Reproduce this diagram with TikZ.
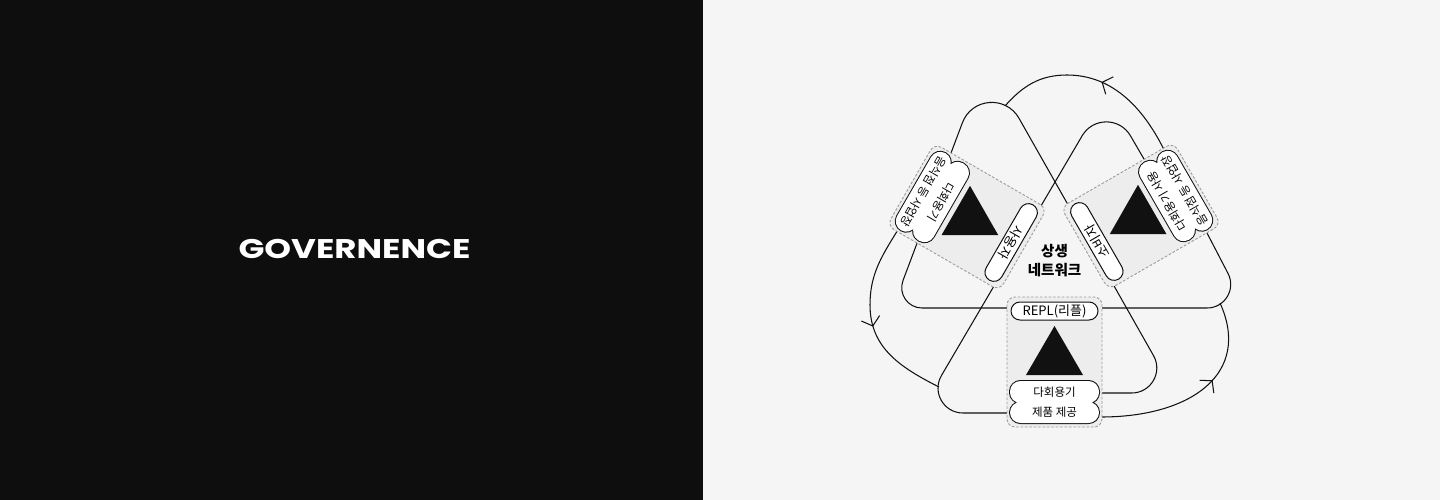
\documentclass[tikz,border=0pt]{standalone}
\usepackage{fontspec}
\setmainfont{Noto Sans CJK KR}
\newfontfamily\titlefont[FakeStretch=1.26]{Poppins}
\usetikzlibrary{arrows.meta,decorations.markings}
\definecolor{panel}{HTML}{0E0E0E}
\definecolor{paper}{HTML}{F5F5F5}
\definecolor{boxfill}{HTML}{EDEDED}
\definecolor{dashgray}{HTML}{9C9C9C}
\definecolor{ink}{HTML}{111111}
\tikzset{
  strand/.style={draw=ink, line width=1.05pt},
  flowmark/.style={postaction={decorate, decoration={markings,
    mark=at position #1 with {\arrow{Straight Barb[length=8pt,width=19pt]}}}}},
  unit/.style={draw=dashgray, dash pattern=on 2.6pt off 1.8pt, line width=0.9pt,
    fill=boxfill, rounded corners=8pt},
  role/.style={draw=ink, line width=1pt, fill=white, rounded corners=9pt,
    minimum width=87pt, minimum height=18pt, inner sep=0pt,
    font=\fontsize{13}{13}\selectfont, transform shape},
  need/.style={inner sep=0pt, font=\fontsize{11.5}{11.5}\selectfont, transform shape}
}

\begin{document}
\begin{tikzpicture}[x=1pt, y=-1pt]
  \useasboundingbox (0,0) rectangle (1440,500);
  \fill[panel] (0,0) rectangle (703,500);
  \fill[paper] (703,0) rectangle (1440,500);
  \node[text=white, font=\titlefont\bfseries\fontsize{27}{27}\selectfont] (title) at (354.5,248.5) {GOVERNENCE};

  % loop with the left apex
  \draw[strand] (1054,308) -- (922,308)
    .. controls (907.8,308) and (898,293.8) .. (903,280.5) -- (962.4,122.7)
    .. controls (971.8,97.8) and (1005.9,95.2) .. (1019,118.3) -- (1153.5,355.6)
    .. controls (1163,372.3) and (1150.9,393) .. (1131.7,393) -- (1054,393);
  % loop with the right apex
  \draw[strand] (1054,413) -- (963,413)
    .. controls (943.6,413) and (931.7,392.1) .. (941.5,375.4) -- (1082.2,135.7)
    .. controls (1093.1,117.2) and (1119.8,117.3) .. (1130.5,135.9) -- (1162,190);
  % outer ring
  \draw[strand] (1054,308) -- (1207,308)
    .. controls (1224.8,308) and (1236.2,289.2) .. (1228,273.4) -- (1168,158);
  \draw[strand, flowmark=0.49] (1168,158) .. controls (1146,110) and (1114,75) .. (1067,75)
    .. controls (1040,75) and (1022.8,85.8) .. (1005,106);
  \draw[strand, flowmark=0.67] (1054,417) -- (1101,417)
    .. controls (1191,417) and (1252,373.5) .. (1220,303);
  \draw[strand, flowmark=0.56] (905,218) .. controls (886.6,249.8) and (870,268.3) .. (870,305)
    .. controls (870,348) and (900.7,367.6) .. (939,387);

  % the three partners
  \foreach \cx/\cy/\ang/\who/\lineA/\lineB [count=\i] in {
      1054.5/362/0/REPL(리플)/다회용기/제품 제공,
      967/217/-120/사용자/다회용기/음식점 등 사업장,
      1141/216/120/소비자/다회용기 사용/음식점 등 사업장} {
    \begin{scope}[shift={(\cx,\cy)}, rotate=\ang]
      \draw[unit] (-47.5,-65) rectangle (47.5,65);
      \fill[ink] (0,-36) -- (28.5,13) -- (-28.5,13) -- cycle;
      \node[role] (role-\i) at (0,-51) {\who};
      \draw[ink, line width=2pt, rounded corners=10.5pt]
        (-44.5,19) rectangle (44.5,41) (-44.5,40) rectangle (44.5,61);
      \fill[white, rounded corners=10.5pt]
        (-44.5,19) rectangle (44.5,41) (-44.5,40) rectangle (44.5,61);
      \node[need] (need-\i-a) at (0,30) {\lineA};
      \node[need] (need-\i-b) at (0,50.5) {\lineB};
    \end{scope}
  }

  \node[align=center, font=\bfseries\fontsize{14.5}{19}\selectfont] (hub) at (1054.5,261) {상생\\네트워크};
\end{tikzpicture}
\end{document}
